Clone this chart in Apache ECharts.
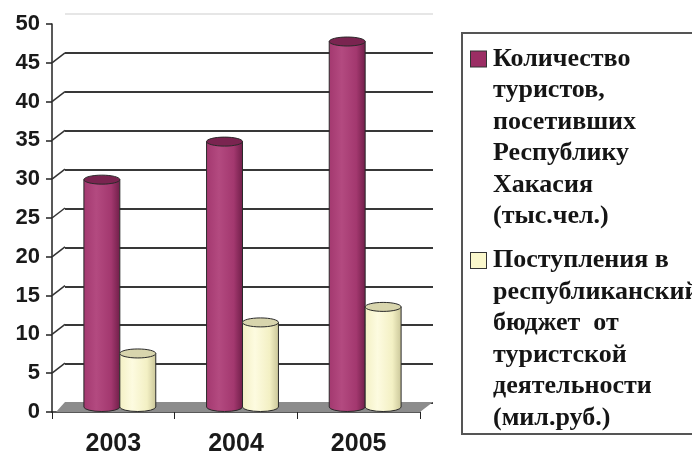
<!DOCTYPE html>
<html>
<head>
<meta charset="utf-8">
<script src="https://cdn.jsdelivr.net/npm/echarts@6/dist/echarts.min.js"></script>
<style>
  html, body { margin: 0; padding: 0; background: #fff; }
  #main { width: 692px; height: 457px; }
</style>
</head>
<body>
<div id="main"></div>
<script>
// данные
var years = ['2003', '2004', '2005'];
var tourists = [29.3, 34.2, 47.1];
var income = [6.9, 10.9, 12.9];
var yTicks = [5, 10, 15, 20, 25, 30, 35, 40, 45];
var touristsLines = ['Количество', 'туристов,', 'посетивших', 'Республику', 'Хакасия', '(тыс.чел.)'];
var incomeLines = ['Поступления в', 'республиканский', 'бюджет  от', 'туристской', 'деятельности', '(мил.руб.)'];
var touristsName = touristsLines.join(' ');
var incomeName = incomeLines.join(' ');

var DX = 13, DY = 10; // глубина 3D

var myChart = echarts.init(document.getElementById('main'));

function cylinder(colors, side) {
    return function (params, api) {
        var cat = api.value(0), v = api.value(1);
        var base = api.coord([cat, 0]);
        var top = api.coord([cat, v]);
        var band = api.size([1, 0])[0];
        var w = band * 0.293;
        var x = base[0] + DX / 2 + (side < 0 ? -w : 0);
        var by = base[1] - DY / 2, ty = top[1] - DY / 2;
        var rx = w / 2, ry = 4.5;
        var body = 'M' + x + ',' + ty + ' L' + x + ',' + by +
            ' A' + rx + ',' + ry + ' 0 0 0 ' + (x + w) + ',' + by +
            ' L' + (x + w) + ',' + ty + ' Z';
        return {
            type: 'group',
            children: [{
                type: 'path',
                shape: { pathData: body },
                style: {
                    fill: new echarts.graphic.LinearGradient(0, 0, 1, 0, [
                        { offset: 0, color: colors[0] },
                        { offset: 0.35, color: colors[1] },
                        { offset: 0.75, color: colors[0] },
                        { offset: 1, color: colors[2] }
                    ]),
                    stroke: '#2a2a2a', lineWidth: 1
                }
            }, {
                type: 'ellipse',
                shape: { cx: x + rx, cy: ty, rx: rx, ry: ry },
                style: { fill: colors[3], stroke: '#2a2a2a', lineWidth: 1 }
            }]
        };
    };
}

var gridColors = [];
for (var i = 0; i < 11; i++) gridColors.push(i === 10 ? '#e6e6e6' : '#383838');

myChart.setOption({
    animation: false,
    grid: [
        { left: 52, right: 272, top: 24, bottom: 44 },
        { left: 52 + DX, right: 272 - DX, top: 24 - DY, bottom: 44 + DY }
    ],
    xAxis: [{
        type: 'category',
        gridIndex: 0,
        data: years,
        axisLine: { lineStyle: { color: '#222', width: 1.5 } },
        axisTick: { show: true, length: 7, lineStyle: { color: '#222' } },
        axisLabel: {
            margin: 20,
            color: '#1a1a1a',
            fontFamily: 'Liberation Sans, Arial',
            fontWeight: 'bold',
            fontSize: 25
        }
    }, {
        type: 'category',
        gridIndex: 1,
        data: years,
        show: false
    }],
    yAxis: [{
        type: 'value',
        gridIndex: 0,
        min: 0, max: 50, interval: 5,
        axisLine: { show: true, lineStyle: { color: '#222', width: 1.5 } },
        axisTick: { show: true, length: 6, lineStyle: { color: '#222', width: 1.5 } },
        splitLine: { show: false },
        axisLabel: {
            margin: 12,
            color: '#1a1a1a',
            fontFamily: 'Liberation Sans, Arial',
            fontWeight: 'bold',
            fontSize: 22
        }
    }, {
        type: 'value',
        gridIndex: 1,
        min: 0, max: 50, interval: 5,
        axisLine: { show: false },
        axisTick: { show: false },
        axisLabel: { show: false },
        splitLine: { show: true, lineStyle: { color: gridColors, width: 2 } }
    }],
    legend: {
        orient: 'vertical',
        left: 462, top: 33,
        padding: [13, 12, 3, 4],
        itemGap: 18,
        itemWidth: 0, itemHeight: 0,
        itemStyle: { opacity: 0 },
        borderColor: '#555', borderWidth: 2,
        data: [touristsName, incomeName],
        formatter: function (name) {
            var lines = name === touristsName ? touristsLines : incomeLines;
            var sq = name === touristsName ? 'sq1' : 'sq2';
            return lines.map(function (l, i) {
                return (i === 0 ? '{' + sq + '| }{g| }' : '{sp| }') + '{t|' + l + '}';
            }).join('\n');
        },
        textStyle: {
            rich: {
                t: { fontFamily: 'Liberation Serif, Times New Roman', fontWeight: 'bold', fontSize: 26, lineHeight: 31.5, color: '#151515' },
                sq1: { width: 15, height: 15, backgroundColor: '#9b2d64', borderColor: '#333', borderWidth: 1 },
                sq2: { width: 15, height: 15, backgroundColor: '#fbf8cc', borderColor: '#333', borderWidth: 1 },
                g: { width: 7, fontSize: 22 },
                sp: { width: 22, fontSize: 22 }
            }
        }
    },
    series: [{
        // пол
        type: 'custom',
        xAxisIndex: 0, yAxisIndex: 0,
        silent: true, z: 1,
        data: [[0, 0]],
        renderItem: function (params, api) {
            var c = params.coordSys;
            var yb = c.y + c.height;
            return {
                type: 'polygon',
                shape: { points: [[c.x + 4, yb], [c.x + c.width, yb], [c.x + c.width + DX, yb - DY], [c.x + DX, yb - DY]] },
                style: { fill: '#8c8c8c' }
            };
        }
    }, {
        // наклонные засечки
        type: 'custom',
        xAxisIndex: 0, yAxisIndex: 0,
        silent: true, z: 1,
        data: yTicks.map(function (v) { return [0, v]; }),
        renderItem: function (params, api) {
            var c = params.coordSys;
            var p = api.coord([0, api.value(1)]);
            return {
                type: 'line',
                shape: { x1: c.x, y1: p[1], x2: c.x + DX, y2: p[1] - DY },
                style: { stroke: '#333', lineWidth: 1.5 }
            };
        }
    }, {
        name: touristsName,
        type: 'custom',
        xAxisIndex: 0, yAxisIndex: 0, z: 3,
        itemStyle: { color: '#9b2d64' },
        data: years.map(function (y, i) { return [i, tourists[i]]; }),
        renderItem: cylinder(['#a3386f', '#b34a80', '#6f1e48', '#7a2450'], -1)
    }, {
        name: incomeName,
        type: 'custom',
        xAxisIndex: 0, yAxisIndex: 0, z: 3,
        itemStyle: { color: '#fbf8cc' },
        data: years.map(function (y, i) { return [i, income[i]]; }),
        renderItem: cylinder(['#f3f0c4', '#fdfbe0', '#c9c598', '#d8d5ad'], 1)
    }]
});
window.onresize = myChart.resize;
</script>
</body>
</html>
